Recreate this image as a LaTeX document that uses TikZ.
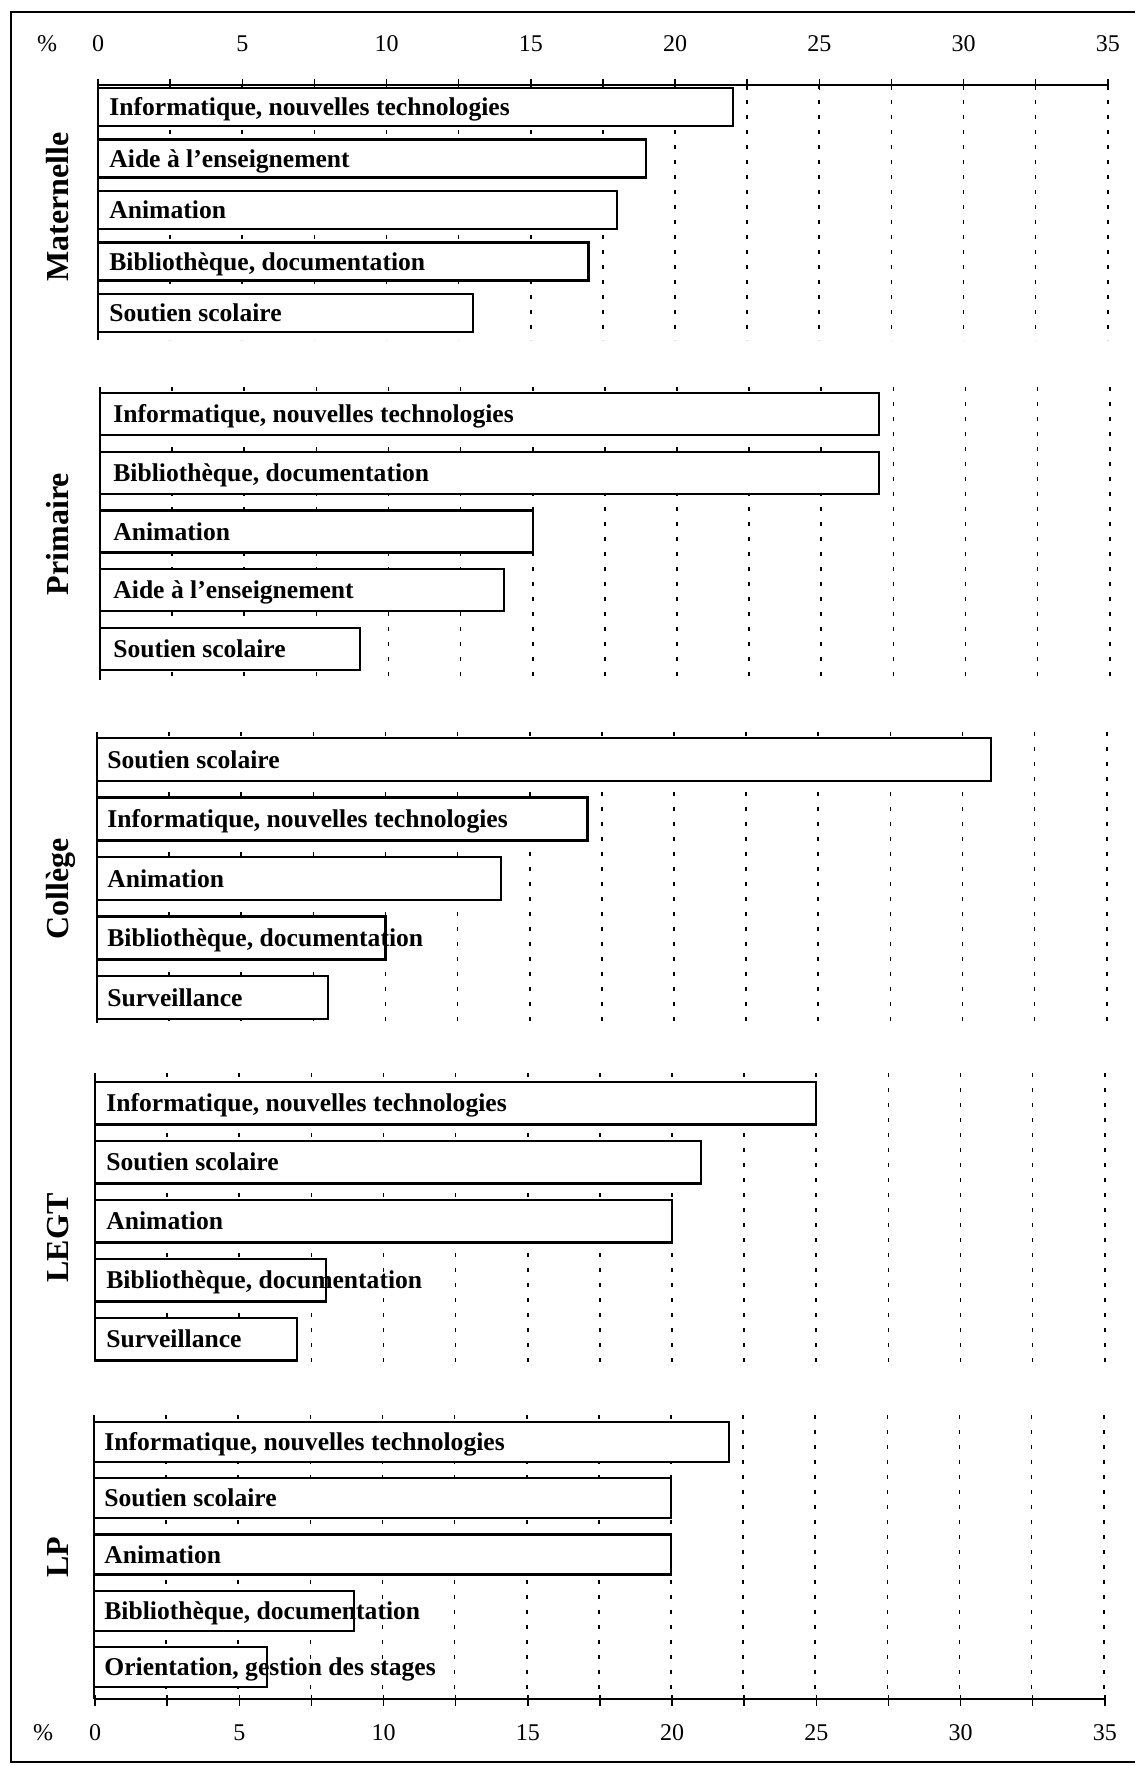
\documentclass[tikz,border=0pt]{standalone}
\usepackage{fontspec}
\setmainfont{Liberation Serif}
\usetikzlibrary{calc}

\tikzset{
  barbox/.style={draw, line width=1.1pt, fill=white},
  barlabel/.style={anchor=base west, inner sep=0pt,
                   font=\fontsize{12.8}{14}\selectfont\bfseries},
  grouplabel/.style={rotate=90, anchor=base, inner sep=0pt,
                     font=\fontsize{16}{18}\selectfont\bfseries},
  ticklabel/.style={anchor=base, inner sep=0pt,
                    font=\fontsize{12}{14}\selectfont},
  gridline/.style={line width=0.8pt, dash pattern=on 2pt off 5.5pt},
  axisline/.style={line width=0.75pt},
}

\begin{document}
\begin{tikzpicture}[x=0.5pt, y=-0.5pt]
  \useasboundingbox (0,0) rectangle (1135,1766);
  \draw[line width=1pt] (1135,12) -- (11,12) -- (11,1762) -- (1135,1762);

  % panels: x of zero / top / bottom
  \foreach \xo/\pt/\pb in {98/85/340, 100/387/680, 97/732/1023, 95/1073/1362, 94/1415/1699} {
    \draw[axisline] (\xo,\pt) -- (\xo,\pb);
    \foreach \k in {1,...,14}
      \draw[gridline] ({\xo+28.85*2.5*\k},\pt) -- ({\xo+28.85*2.5*\k},\pb);
  }

  \coordinate (top0) at (98,85);
  \coordinate (bot0) at (95,1699);
  \draw[axisline] (top0) -- ++(1010,0);
  \draw[axisline] (bot0) -- ++(1010,0);
  \foreach \k in {0,...,14} {
    \draw[axisline] ($(top0)+(28.85*2.5*\k,-6)$) -- ++(0,11);
    \draw[axisline] ($(bot0)+(28.85*2.5*\k,-4)$) -- ++(0,11);
  }
  \foreach \v in {0,5,...,35} {
    \node[ticklabel] (top-\v) at ($(top0)+(28.85*\v,-33)$) {\v};
    \node[ticklabel] (bot-\v) at ($(bot0)+(28.85*\v,41)$) {\v};
  }
  \node[ticklabel] (pct-top) at (47,52) {\%};
  \node[ticklabel] (pct-bot) at (43,1740) {\%};

  % Maternelle
  \foreach \i/\v/\txt in {0/22/{Informatique, nouvelles technologies},
      1/19/{Aide à l'enseignement}, 2/18/Animation,
      3/17/{Bibliothèque, documentation}, 4/13/{Soutien scolaire}} {
    \draw[barbox] (98,{88+51.5*\i}) rectangle ({98+28.85*\v},{126+51.5*\i});
    \node[barlabel] (mat-\i) at (109,{115.5+51.5*\i}) {\txt};
  }
  \node[grouplabel] (mat) at (68,207) {Maternelle};

  % Primaire
  \foreach \i/\v/\txt in {0/27/{Informatique, nouvelles technologies},
      1/27/{Bibliothèque, documentation}, 2/15/Animation,
      3/14/{Aide à l'enseignement}, 4/9/{Soutien scolaire}} {
    \draw[barbox] (100,{393+58.75*\i}) rectangle ({100+28.85*\v},{435+58.75*\i});
    \node[barlabel] (prim-\i) at (113,{422.5+58.75*\i}) {\txt};
  }
  \node[grouplabel] (prim) at (68,534) {Primaire};

  % Collège
  \foreach \i/\v/\txt in {0/31/{Soutien scolaire},
      1/17/{Informatique, nouvelles technologies}, 2/14/Animation,
      3/10/{Bibliothèque, documentation}, 4/8/Surveillance} {
    \draw[barbox] (97,{738+59.5*\i}) rectangle ({97+28.85*\v},{781+59.5*\i});
    \node[barlabel] (col-\i) at (107,{768+59.5*\i}) {\txt};
  }
  \node[grouplabel] (col) at (68,889) {Collège};

  % LEGT
  \foreach \i/\v/\txt in {0/25/{Informatique, nouvelles technologies},
      1/21/{Soutien scolaire}, 2/20/Animation,
      3/8/{Bibliothèque, documentation}, 4/7/Surveillance} {
    \draw[barbox] (95,{1082+59*\i}) rectangle ({95+28.85*\v},{1124.5+59*\i});
    \node[barlabel] (legt-\i) at (106,{1111.5+59*\i}) {\txt};
  }
  \node[grouplabel] (legt) at (68,1238) {LEGT};

  % LP
  \foreach \i/\v/\txt in {0/22/{Informatique, nouvelles technologies},
      1/20/{Soutien scolaire}, 2/20/Animation,
      3/9/{Bibliothèque, documentation}, 4/6/{Orientation, gestion des stages}} {
    \draw[barbox] (94,{1422+56.25*\i}) rectangle ({94+28.85*\v},{1462+56.25*\i});
    \node[barlabel] (lp-\i) at (104,{1450.5+56.25*\i}) {\txt};
  }
  \node[grouplabel] (lp) at (68,1557) {LP};
\end{tikzpicture}
\end{document}
